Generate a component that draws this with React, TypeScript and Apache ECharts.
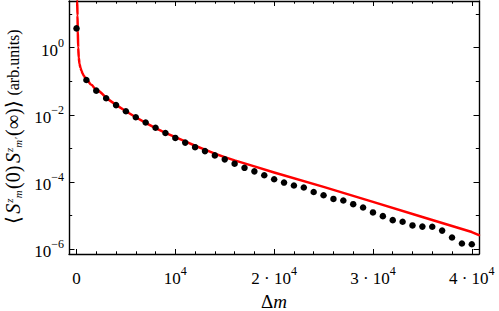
import { useEffect, useRef } from 'react';
import * as echarts from 'echarts';

// Measured points (Δm, correlation in arb. units)
const dotDm = [
  0, 1000, 2000, 3000, 4000, 5000, 6000, 7000, 8000, 9000,
  10000, 11000, 12000, 13000, 14000, 15000, 16000, 17000, 18000, 19000,
  20000, 21000, 22000, 23000, 24000, 25000, 26000, 27000, 28000, 29000,
  30000, 31000, 32000, 33000, 34000, 35000, 36000, 37000, 38000, 39000, 40000,
];
const dotValues = [
  3.7, 0.108, 0.0522, 0.0309, 0.0194, 0.0127, 0.00845, 0.00589, 0.0041, 0.00288,
  0.00205, 0.00149, 0.00109, 0.000832, 0.000621, 0.000473, 0.000352, 0.000265, 0.000208, 0.000159,
  0.000121, 9.66e-5, 7.92e-5, 6.87e-5, 5.05e-5, 4.06e-5, 3.15e-5, 2.83e-5, 2.2e-5, 1.75e-5,
  1.25e-5, 9.7e-6, 7.38e-6, 6.58e-6, 5.14e-6, 4.74e-6, 4.68e-6, 3.6e-6, 2.24e-6, 1.49e-6, 1.42e-6,
];

// Fitted curve (red)
const curveDm = [
  50, 70, 100, 130, 170, 230, 300, 400, 500, 620, 740, 870, 1000, 1500, 2000, 3000, 4000,
  5000, 6000, 7000, 8000, 9000, 10000, 11000, 12000, 13000, 14000, 15000, 16000, 18000,
  20000, 25000, 30000, 35000, 40000, 40730,
];
const curveValues = [
  60, 24, 9.0, 3.2, 1.0, 0.5, 0.33, 0.25, 0.204, 0.17, 0.145, 0.128, 0.114, 0.078, 0.0548,
  0.0318, 0.0197, 0.0127, 0.00845, 0.00577, 0.00399, 0.00292, 0.00216, 0.00161, 0.0012,
  0.000916, 0.000697, 0.000553, 0.000442, 0.000292, 0.000193, 7.19e-5, 2.57e-5, 9.18e-6,
  3.26e-6, 2.65e-6,
];
// the steep head of the curve is drawn smoothed, the tail as a plain line
const curveSplitDm = 3000;

// Axes
const xMin = -760;
const xMax = 40730;
const yMinExp = -6.139;
const yMaxExp = 1.383;
const xMajorTicks = [0, 10000, 20000, 30000, 40000];
const xTickLabels = ['0', '10^4', '2 · 10^4', '3 · 10^4', '4 · 10^4'];
const xMinorTicks = [
  2000, 4000, 6000, 8000, 12000, 14000, 16000, 18000, 22000, 24000, 26000, 28000,
  32000, 34000, 36000, 38000,
];
const yMajorExp = [-6, -4, -2, 0];
const yTickLabels = ['10^−6', '10^−4', '10^−2', '10^0'];
const yMinorExp = [-5, -3, -1, 1];

const FONT = 'Liberation Serif';

function richLabel(s: string): string {
  const i = s.indexOf('^');
  if (i < 0) return `{b|${s}}`;
  return `{b|${s.slice(0, i)}}{sup|${s.slice(i + 1)}}`;
}

const labelRich = {
  b: { fontSize: 17, lineHeight: 22, verticalAlign: 'bottom', fontFamily: FONT, color: '#000' },
  sup: { fontSize: 12, lineHeight: 11, verticalAlign: 'top', fontFamily: FONT, color: '#000' },
};

export default function App() {
  const ref = useRef<HTMLDivElement>(null);

  useEffect(() => {
    document.body.style.margin = '0';
    if (!ref.current) return;
    const chart = echarts.init(ref.current, undefined, { renderer: 'svg' });

    const lineStyle = { color: '#000', width: 1.4 };
    const tickLine = { color: '#000', width: 1 };
    const baseX = (extra: any) => ({
      type: 'value',
      min: xMin,
      max: xMax,
      splitLine: { show: false },
      ...extra,
    });
    const baseY = (extra: any) => ({
      type: 'value',
      min: yMinExp,
      max: yMaxExp,
      splitLine: { show: false },
      ...extra,
    });

    const curvePts = curveDm.map((d, i) => [d, Math.log10(curveValues[i])]);
    const headPts = curvePts.filter((p) => p[0] <= curveSplitDm);
    const tailPts = curvePts.filter((p) => p[0] >= curveSplitDm);
    const redLine = { color: '#ff0000', width: 2.5, join: 'round', cap: 'round' };

    chart.setOption({
      animation: false,
      backgroundColor: '#fff',
      grid: { left: 69, right: 20, top: 1, bottom: 57, containLabel: false, outerBoundsMode: 'none' },
      xAxis: [
        baseX({
          position: 'bottom',
          axisLine: { show: true, onZero: false, lineStyle },
          axisTick: { show: true, inside: true, length: 5, customValues: xMajorTicks, lineStyle: tickLine },
          axisLabel: {
            show: true,
            customValues: xMajorTicks,
            margin: 11,
            formatter: (v: number) => richLabel(xTickLabels[xMajorTicks.indexOf(v)] ?? ''),
            rich: labelRich,
          },
          name: '{d|Δ}{m|m}',
          nameLocation: 'middle',
          nameGap: 38,
          nameTextStyle: {
            rich: {
              d: { fontSize: 19, fontFamily: FONT, color: '#000' },
              m: { fontSize: 19, fontFamily: FONT, fontStyle: 'italic', color: '#000' },
            },
          },
        }),
        baseX({
          position: 'bottom',
          axisLine: { show: false, onZero: false },
          axisTick: { show: true, inside: true, length: 2.7, customValues: xMinorTicks, lineStyle: tickLine },
          axisLabel: { show: false },
        }),
        baseX({
          position: 'top',
          axisLine: { show: true, onZero: false, lineStyle },
          axisTick: { show: true, inside: true, length: 5, customValues: xMajorTicks, lineStyle: tickLine },
          axisLabel: { show: false },
        }),
        baseX({
          position: 'top',
          axisLine: { show: false, onZero: false },
          axisTick: { show: true, inside: true, length: 2.7, customValues: xMinorTicks, lineStyle: tickLine },
          axisLabel: { show: false },
        }),
      ],
      yAxis: [
        baseY({
          position: 'left',
          axisLine: { show: true, onZero: false, lineStyle },
          axisTick: { show: true, inside: true, length: 5.5, customValues: yMajorExp, lineStyle: tickLine },
          axisLabel: {
            show: true,
            customValues: yMajorExp,
            margin: 5,
            formatter: (v: number) => richLabel(yTickLabels[yMajorExp.indexOf(v)] ?? ''),
            rich: labelRich,
          },
          name: '{a|⟨}{s|S}{sup|z}{sub|m}{a|(0)}{s|S}{sup|z}{sub|m′}{a|(∞)⟩} {t|(arb.units)}',
          nameLocation: 'middle',
          nameGap: 46,
          nameTextStyle: {
            rich: {
              a: { fontSize: 20, lineHeight: 20, padding: [0, 1.5], verticalAlign: 'middle', fontFamily: FONT, color: '#000' },
              s: { fontSize: 20, lineHeight: 20, padding: [0, 1], verticalAlign: 'middle', fontFamily: FONT, fontStyle: 'italic', color: '#000' },
              sup: { fontSize: 11, lineHeight: 10, verticalAlign: 'top', fontFamily: FONT, fontStyle: 'italic', color: '#000' },
              sub: { fontSize: 11, lineHeight: 10, verticalAlign: 'bottom', fontFamily: FONT, fontStyle: 'italic', color: '#000' },
              t: { fontSize: 16, lineHeight: 20, verticalAlign: 'middle', fontFamily: FONT, color: '#000' },
            },
          },
        }),
        baseY({
          position: 'left',
          axisLine: { show: false, onZero: false },
          axisTick: { show: true, inside: true, length: 3.2, customValues: yMinorExp, lineStyle: tickLine },
          axisLabel: { show: false },
        }),
        baseY({
          position: 'right',
          axisLine: { show: true, onZero: false, lineStyle },
          axisTick: { show: true, inside: true, length: 5.5, customValues: yMajorExp, lineStyle: tickLine },
          axisLabel: { show: false },
        }),
        baseY({
          position: 'right',
          axisLine: { show: false, onZero: false },
          axisTick: { show: true, inside: true, length: 3.2, customValues: yMinorExp, lineStyle: tickLine },
          axisLabel: { show: false },
        }),
      ],
      series: [
        {
          type: 'line',
          xAxisIndex: 0,
          yAxisIndex: 0,
          data: headPts,
          showSymbol: false,
          smooth: 0.3,
          smoothMonotone: 'x',
          clip: true,
          lineStyle: redLine,
          z: 2,
        },
        {
          type: 'line',
          xAxisIndex: 0,
          yAxisIndex: 0,
          data: tailPts,
          showSymbol: false,
          smooth: false,
          clip: true,
          lineStyle: redLine,
          z: 2,
        },
        {
          type: 'scatter',
          xAxisIndex: 0,
          yAxisIndex: 0,
          data: dotDm.map((d, i) => [d, Math.log10(dotValues[i])]),
          symbol: 'circle',
          symbolSize: 6.5,
          itemStyle: { color: '#000', opacity: 1 },
          z: 3,
        },
      ],
    });

    return () => chart.dispose();
  }, []);

  return <div ref={ref} style={{ width: 499, height: 311 }} />;
}
